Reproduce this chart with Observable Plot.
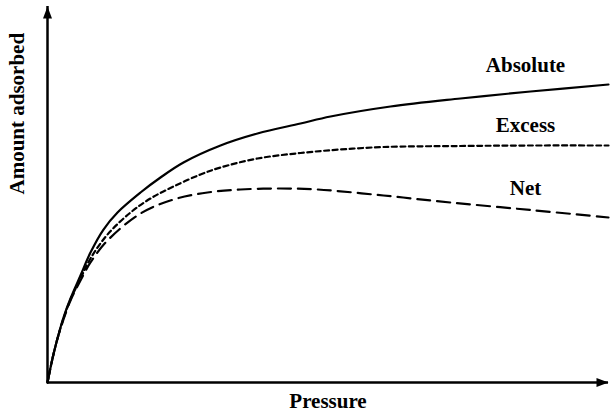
<!DOCTYPE html>
<html>
<head>
<meta charset="utf-8">
<script src="https://cdn.jsdelivr.net/npm/d3@7"></script>
<script src="https://cdn.jsdelivr.net/npm/@observablehq/plot@0.6"></script>
<style>
  html, body { margin: 0; padding: 0; background: #fff; }
</style>
</head>
<body>
<div id="chart"></div>
<script>
// Data (arbitrary units: pressure 0–100, amount 0–100)
const absoluteP = [0, 0.89, 1.78, 2.85, 4.10, 5.88, 7.66, 9.98, 12.48, 16.58, 20.14, 24.24, 30.84, 37.43, 45.10, 50.45, 61.14, 73.62, 86.10, 100];
const absoluteA = [0, 6.38, 11.70, 17.29, 22.34, 28.46, 34.57, 40.69, 45.21, 50.53, 54.52, 58.51, 63.03, 66.22, 68.88, 70.74, 73.40, 75.53, 77.39, 79.26];

const excessP = [0, 0.89, 1.78, 2.85, 4.10, 5.88, 7.66, 10.70, 14.80, 18.36, 22.46, 27.27, 30.84, 37.43, 45.10, 52.23, 59.89, 73.62, 86.10, 100];
const excessA = [0, 6.38, 11.70, 17.02, 22.07, 27.66, 32.98, 39.36, 45.21, 48.94, 52.13, 55.32, 57.18, 59.57, 61.04, 61.97, 62.63, 62.90, 63.03, 63.03];

const netP = [0, 0.89, 1.78, 2.85, 4.10, 5.88, 7.66, 10.70, 16.58, 22.46, 28.52, 34.40, 41.53, 48.13, 59.89, 71.84, 86.10, 100];
const netA = [0, 6.38, 11.70, 16.76, 21.81, 27.13, 31.91, 37.77, 44.95, 48.67, 50.53, 51.33, 51.60, 51.33, 49.73, 47.87, 45.88, 43.88];

const seriesNames = ["Absolute", "Excess", "Net"];
const xLabel = "Pressure";
const yLabel = "Amount adsorbed";
const labelAt = 86.10;

const toRows = (P, A, name) => P.map((p, i) => ({p, a: A[i], name}));
const absolute = toRows(absoluteP, absoluteA, seriesNames[0]);
const excess = toRows(excessP, excessA, seriesNames[1]);
const net = toRows(netP, netA, seriesNames[2]);

const xDomain = [0, 100];
const yDomain = [0, 100];

// filled arrowhead symbol, tip at origin pointing up
const arrowHead = {
  draw(ctx) {
    ctx.moveTo(0, 0);
    ctx.lineTo(4.5, 12);
    ctx.lineTo(-4.5, 12);
    ctx.closePath();
  }
};

const font = "'Liberation Serif', 'Times New Roman', serif";

const chart = Plot.plot({
  width: 610,
  height: 419,
  marginLeft: 47,
  marginRight: 2,
  marginTop: 6,
  marginBottom: 37,
  x: {domain: xDomain, axis: null},
  y: {domain: yDomain, axis: null},
  style: {fontFamily: font, fontWeight: "bold", fontSize: "21px", background: "#fff"},
  marks: [
    Plot.ruleX([xDomain[0]], {stroke: "black", strokeWidth: 2.5}),
    Plot.ruleY([yDomain[0]], {stroke: "black", strokeWidth: 2.5}),
    Plot.dot([{p: xDomain[0], a: yDomain[1]}], {x: "p", y: "a", symbol: arrowHead, fill: "black", stroke: "none"}),
    Plot.dot([{p: xDomain[1], a: yDomain[0]}], {x: "p", y: "a", symbol: arrowHead, rotate: 90, fill: "black", stroke: "none"}),
    Plot.line(absolute, {x: "p", y: "a", curve: "catmull-rom", stroke: "black", strokeWidth: 2.2}),
    Plot.line(excess, {x: "p", y: "a", curve: "catmull-rom", stroke: "black", strokeWidth: 2.2, strokeDasharray: "5,3.5"}),
    Plot.line(net, {x: "p", y: "a", curve: "catmull-rom", stroke: "black", strokeWidth: 2.2, strokeDasharray: "13,7"}),
    Plot.text(absolute.filter(d => d.p === labelAt), {x: "p", y: "a", text: "name", dx: -5, dy: -26, fontSize: 21, fontWeight: "bold", fontFamily: font}),
    Plot.text(excess.filter(d => d.p === labelAt), {x: "p", y: "a", text: "name", dx: -5, dy: -20, fontSize: 21, fontWeight: "bold", fontFamily: font}),
    Plot.text(net.filter(d => d.p === labelAt), {x: "p", y: "a", text: "name", dx: -5, dy: -22, fontSize: 21, fontWeight: "bold", fontFamily: font}),
    Plot.text([xLabel], {frameAnchor: "bottom", text: d => d, dy: 25, fontSize: 21, fontWeight: "bold", fontFamily: font}),
    Plot.text([yLabel], {frameAnchor: "left", text: d => d, rotate: -90, dx: -30, fontSize: 21, fontWeight: "bold", fontFamily: font})
  ]
});
document.getElementById("chart").appendChild(chart);
</script>
</body>
</html>
